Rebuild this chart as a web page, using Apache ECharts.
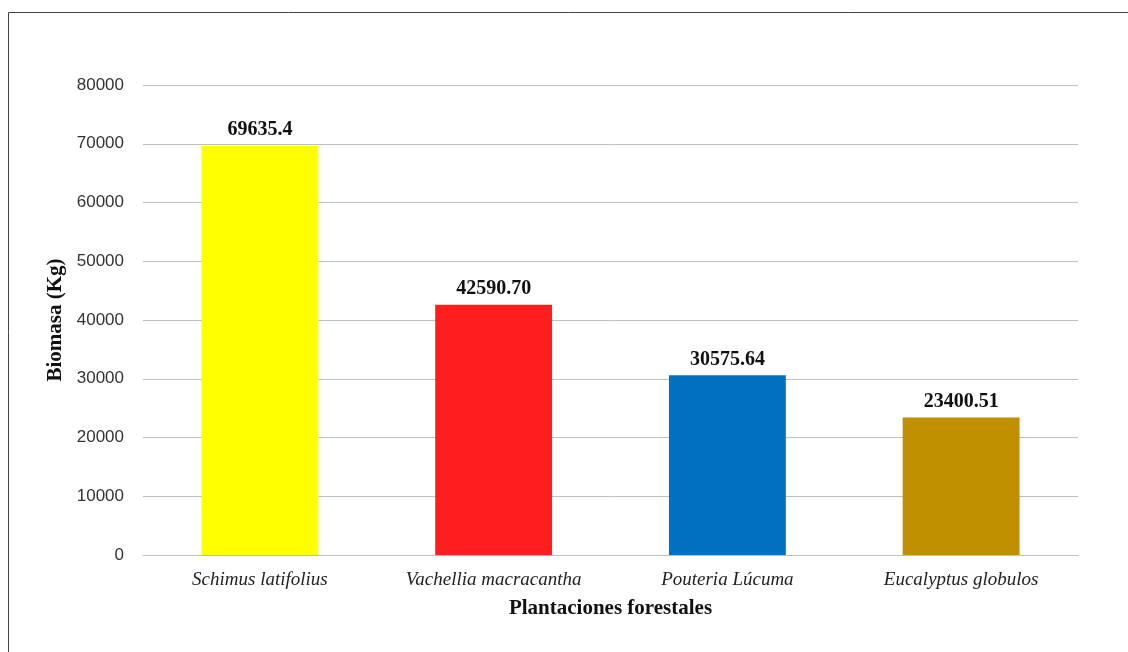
<!DOCTYPE html>
<html>
<head>
<meta charset="utf-8">
<script src="https://cdn.jsdelivr.net/npm/echarts@6/dist/echarts.min.js"></script>
<style>
  html, body { margin: 0; padding: 0; background: #ffffff; }
  #chart { width: 1128px; height: 652px; }
</style>
</head>
<body>
<div id="chart"></div>
<script>
// Biomass per forest plantation
const categories = ['Schimus latifolius', 'Vachellia macracantha', 'Pouteria Lúcuma', 'Eucalyptus globulos'];
const biomass = [69635.4, 42590.70, 30575.64, 23400.51];
const valueLabels = ['69635.4', '42590.70', '30575.64', '23400.51'];
const barColors = ['#FFFF00', '#FF1E1E', '#0070C0', '#BF8F00'];
const yTicks = { min: 0, max: 80000, interval: 10000 };

const chart = echarts.init(document.getElementById('chart'), null, { renderer: 'canvas' });

chart.setOption({
  backgroundColor: '#ffffff',
  animation: false,
  graphic: [{
    type: 'rect',
    shape: { x: 8.5, y: 12.5, width: 1300, height: 800 },
    style: { fill: 'none', stroke: '#444444', lineWidth: 1 },
    silent: true
  }],
  grid: { left: 143, right: 50, top: 85, bottom: 97 },
  xAxis: {
    type: 'category',
    data: categories,
    axisLine: { show: true, lineStyle: { color: '#bfbfbf', width: 1 } },
    axisTick: { show: false },
    axisLabel: {
      margin: 15,
      fontFamily: 'Liberation Serif',
      fontStyle: 'italic',
      fontSize: 19,
      color: '#222222'
    },
    name: 'Plantaciones forestales',
    nameLocation: 'middle',
    nameGap: 43,
    nameTextStyle: {
      fontFamily: 'Liberation Serif',
      fontWeight: 'bold',
      fontSize: 21,
      color: '#111111'
    }
  },
  yAxis: {
    type: 'value',
    min: yTicks.min,
    max: yTicks.max,
    interval: yTicks.interval,
    axisLine: { show: false },
    axisTick: { show: false },
    splitLine: { lineStyle: { color: '#bfbfbf', width: 1 } },
    axisLabel: {
      margin: 19,
      formatter: v => String(v),
      fontFamily: 'Liberation Sans',
      fontSize: 17,
      color: '#333333'
    },
    name: 'Biomasa (Kg)',
    nameLocation: 'middle',
    nameGap: 72,
    nameRotate: 90,
    nameTextStyle: {
      fontFamily: 'Liberation Serif',
      fontWeight: 'bold',
      fontSize: 21,
      color: '#111111'
    }
  },
  series: [{
    type: 'bar',
    barWidth: '50%',
    data: biomass.map((v, i) => ({ value: v, itemStyle: { color: barColors[i] } })),
    label: {
      show: true,
      position: 'top',
      distance: 6,
      formatter: p => valueLabels[p.dataIndex],
      fontFamily: 'Liberation Serif',
      fontWeight: 'bold',
      fontSize: 20,
      color: '#111111'
    }
  }]
});
</script>
</body>
</html>
